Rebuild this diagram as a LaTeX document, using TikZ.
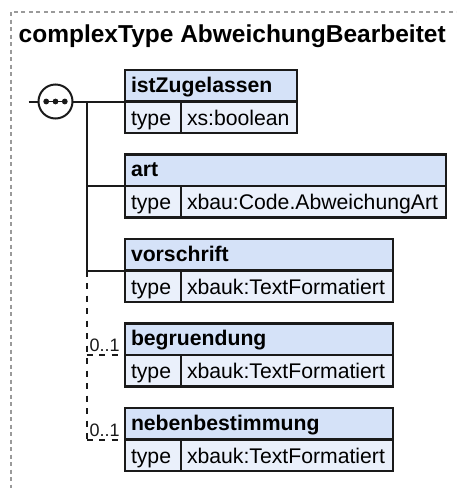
\documentclass[tikz,border=0pt]{standalone}
\usepackage{fontspec}
\setmainfont{Liberation Sans}
\usetikzlibrary{calc}
\definecolor{hfill}{HTML}{D5E2F8}
\definecolor{tfill}{HTML}{EAF0FB}
\definecolor{bc}{HTML}{1A1A1A}
\definecolor{framec}{HTML}{9A9A9A}
\tikzset{
  hdr/.style={draw=bc, line width=2.1pt, fill=hfill, anchor=north west, outer sep=0pt,
    inner xsep=6pt, inner ysep=0pt, minimum height=31.5pt, text height=14.5pt, text depth=2pt,
    align=left, font=\fontsize{21.2}{25}\selectfont\bfseries},
  tcell/.style={draw=bc, line width=2.1pt, fill=tfill, anchor=north west, outer sep=0pt,
    inner xsep=6pt, inner ysep=0pt, minimum height=31.5pt, text height=17pt, text depth=1pt,
    align=left, font=\fontsize{21.2}{25}\selectfont},
  conn/.style={draw=bc, line width=2pt},
  optdash/.style={dash pattern=on 6pt off 6.5pt},
  mult/.style={anchor=base west, inner sep=0pt, font=\fontsize{18}{20}\selectfont, text=bc},
  frame/.style={draw=framec, line width=1.3pt, dash pattern=on 4pt off 3.5pt},
  seqc/.style={circle, draw=bc, line width=2pt, fill=white, minimum size=34pt, inner sep=0pt, outer sep=0pt},
}
\begin{document}
\begin{tikzpicture}[x=1pt, y=-1pt]
\useasboundingbox (0,0) rectangle (456,488);
\clip (0,0) rectangle (456,488);
\fill[white] (0,0) rectangle (456,488);
\draw[frame] (11,12) rectangle (480,510);

\node[anchor=base west, inner sep=0pt, font=\fontsize{24.5}{28}\selectfont\bfseries] (title) at (18.5,42) {complexType AbweichungBearbeitet};

% elements
\node[hdr, text width=160pt] (h1) at (125,70) {istZugelassen};
\node[tcell, text width=44pt] (t1) at (h1.south west) {type};
\node[tcell, text width=104pt] (v1) at (t1.north east) {xs:boolean};

\node[hdr, text width=309pt] (h2) at (125,154.5) {art};
\node[tcell, text width=44pt] (t2) at (h2.south west) {type};
\node[tcell, text width=253pt] (v2) at (t2.north east) {xbau:Code.AbweichungArt};

\node[hdr, text width=256pt] (h3) at (125,239) {vorschrift};
\node[tcell, text width=44pt] (t3) at (h3.south west) {type};
\node[tcell, text width=200pt] (v3) at (t3.north east) {xbauk:TextFormatiert};

\node[hdr, text width=256pt] (h4) at (125,323.5) {begruendung};
\node[tcell, text width=44pt] (t4) at (h4.south west) {type};
\node[tcell, text width=200pt] (v4) at (t4.north east) {xbauk:TextFormatiert};

\node[hdr, text width=256pt] (h5) at (125,408) {nebenbestimmung};
\node[tcell, text width=44pt] (t5) at (h5.south west) {type};
\node[tcell, text width=200pt] (v5) at (t5.north east) {xbauk:TextFormatiert};

% sequence compositor
\coordinate (in) at (28.5,101.5);
\coordinate (j) at (86.7,101.5);
\draw[conn] (in) -- (55.5,101.5);
\draw[conn] (55.5,101.5) -- (h1.south west);
\node[seqc] (seq) at (55.5,101.5) {};
\draw[bc, line width=1.6pt] ($(seq.center)+(-9.3,0)$) -- ($(seq.center)+(9.3,0)$);
\fill[bc] ($(seq.center)+(-9.3,0)$) circle (2.9);
\fill[bc] (seq.center) circle (2.9);
\fill[bc] ($(seq.center)+(9.3,0)$) circle (2.9);

% connectors
\draw[conn] (j) -- (j |- h3.south west);
\draw[conn] (j |- h2.south west) -- (h2.south west);
\draw[conn] (j |- h3.south west) -- (h3.south west);
\draw[conn, optdash] (j |- h3.south west) -- (j |- h5.south west);
\draw[conn, optdash] (j |- h4.south west) -- (h4.south west);
\draw[conn, optdash] (j |- h5.south west) -- (h5.south west);
\node[mult] (m4) at (89.5,351.5) {0..1};
\node[mult] (m5) at (89.5,436) {0..1};
\end{tikzpicture}
\end{document}
